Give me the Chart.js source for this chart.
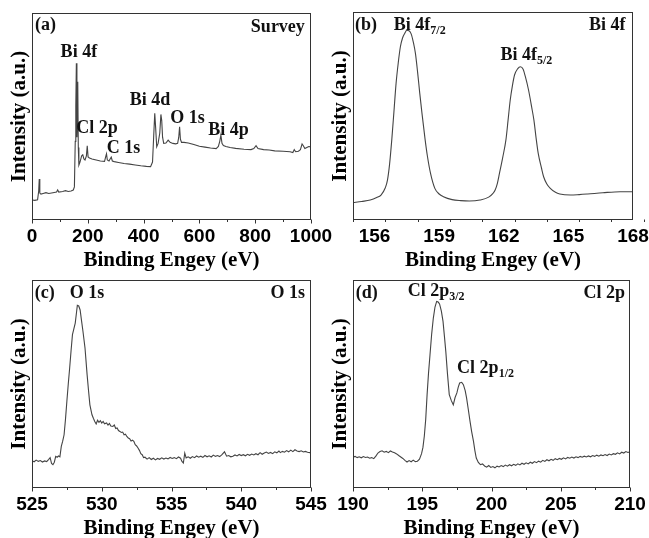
<!DOCTYPE html>
<html><head><meta charset="utf-8">
<script src="https://cdn.jsdelivr.net/npm/chart.js"></script>
<style>
html,body{margin:0;padding:0;background:#fff;}
#wrap{position:relative;width:649px;height:538px;overflow:hidden;background:#fff;}
#wrap canvas{position:absolute;left:0;top:0;}
</style></head><body>
<div id="wrap">
<canvas id="ca" width="649" height="538"></canvas>
<canvas id="cb" width="649" height="538"></canvas>
<canvas id="cc" width="649" height="538"></canvas>
<canvas id="cd" width="649" height="538"></canvas>
</div>
<script>
// ---------- data (arbitrary intensity units, 0..100 of plot height) ----------
const surveyEnergy = [0,10,20,24,26,28,32,40,50,60,75,88,92,96,110,120,130,140,148,152,155,157,159,161,163,164,166,168,172,178,182,186,190,195,198,201,206,215,230,245,260,264,267,270,276,280,284,288,295,310,330,350,370,390,410,425,432,436,440,443,447,452,458,462,465,468,472,480,488,495,505,515,522,526,529,532,536,545,560,580,600,620,640,660,668,673,677,681,686,695,710,730,760,785,795,803,810,830,850,870,900,925,935,940,945,955,962,968,972,978,985,992,1000];
const surveyIntensity = [9.7,9.5,9.8,14,19.8,13,12.5,12.8,13.2,12.8,13.2,13.5,14.5,13.5,13.8,14.2,13.8,14,14.5,16,38,55,75.7,40,50,66.8,35,26.5,28,31,31.5,29.5,29,31,35.9,30.5,30,29.5,29,28.5,28.3,30.5,32,29,28.5,29.5,30.4,28.5,28.2,27.8,27.3,27,26.6,26.2,25.9,25.8,28,40,51.5,45,35.4,37,42,51,48,40,37,37.2,38.6,37.5,37,36.8,37,40,45,39,37.5,37.5,37.2,36.5,35.6,35.2,34.8,34.5,35.5,38,41,37,36,35.5,35,34.6,34.2,34,34.5,35.9,34.5,34,33.8,33.4,33.2,33,32.6,34,33,33.2,34,36.7,36,34.5,35,35.5,35.4];

const bi4fEnergy = [155.0,155.4,155.8,156.1,156.3,156.5,156.6,156.7,156.8,156.9,157.0,157.1,157.2,157.3,157.4,157.5,157.6,157.7,157.8,157.9,158.0,158.1,158.2,158.35,158.45,158.6,158.8,159.0,159.2,159.6,160.0,160.4,160.9,161.3,161.5,161.6,161.7,161.8,161.95,162.1,162.2,162.3,162.4,162.5,162.65,162.77,162.9,163.0,163.15,163.3,163.4,163.5,163.6,163.75,163.85,164.0,164.16,164.4,164.6,165.1,165.5,165.9,166.6,167.4,168.0];
const bi4fIntensity = [8.3,8.9,9.6,10.8,12.0,15.5,19.2,27,38.5,52,65.7,75.5,83.3,87.5,89.7,91.2,91.0,89.5,85.5,80,71,60.9,51.5,38.5,31,22.4,15.2,12.5,11.2,9.8,9.3,9.1,9.6,11.0,12.8,14.4,17.5,22.4,30,38.5,48,57.7,64.5,69.7,72.8,73.7,72.5,69,62.5,54,48,39.5,32,25,20.8,17.3,15.2,13.3,12.5,12.0,12.2,12.5,13.1,13.6,13.6];

const o1sEnergy = [525.0,525.15,525.3,525.45,525.6,525.75,525.9,526.05,526.2,526.3,526.4,526.5,526.6,526.7,526.8,526.9,527.0,527.1,527.2,527.3,527.4,527.5,527.6,527.7,527.8,527.9,528.0,528.1,528.2,528.25,528.35,528.45,528.55,528.65,528.8,528.95,529.05,529.15,529.3,529.4,529.5,529.6,529.7,529.8,529.9,530.0,530.1,530.2,530.35,530.45,530.55,530.65,530.8,530.9,531.0,531.1,531.2,531.3,531.4,531.5,531.6,531.7,531.8,531.9,532.0,532.1,532.2,532.3,532.4,532.5,532.6,532.7,532.8,532.9,533.0,533.1,533.25,533.4,533.55,533.7,533.85,534.0,534.15,534.3,534.45,534.6,534.75,534.9,535.05,535.2,535.35,535.5,535.65,535.75,535.85,535.95,536.05,536.2,536.35,536.5,536.65,536.8,536.95,537.1,537.25,537.4,537.55,537.7,537.85,538.0,538.15,538.3,538.45,538.6,538.8,538.95,539.1,539.25,539.4,539.55,539.7,539.85,540.0,540.15,540.3,540.45,540.6,540.75,540.9,541.05,541.2,541.35,541.5,541.65,541.8,541.95,542.1,542.25,542.4,542.55,542.7,542.8,542.95,543.1,543.25,543.4,543.55,543.7,543.85,544.0,544.15,544.3,544.45,544.6,544.75,544.9,545.0];
const o1sIntensity = [13.1,12.6,13.4,12.8,13.2,12.5,13.0,12.7,13.8,14.6,11.8,11.2,12.4,15.2,14.8,15.4,15.0,20.0,22.5,25.6,33,41.7,50,57.7,66,73.7,76.5,79.3,85,87.8,87.5,85.6,80.5,75.5,67.3,54.5,47,40,35.2,33.5,32,30.8,32.6,31.6,32.4,31.2,32.0,30.9,31.3,30.2,31.0,29.8,29.6,30.3,28.6,28.9,27.6,27.2,26.7,26.9,25.6,25.9,24.8,24.0,23.7,22.6,23.0,22.4,20.8,20.2,19.2,18.1,16.5,16.0,14.6,14.8,13.9,14.6,13.7,14.3,13.5,14.2,13.8,14.5,13.9,14.4,14.0,14.7,14.2,14.6,14.1,14.9,14.3,12.8,12.0,16.8,14.5,15.0,14.3,15.1,14.6,15.4,14.8,15.3,14.7,15.6,15.0,15.5,14.9,15.8,15.2,15.6,15.1,15.9,17.4,15.3,15.6,15.0,15.3,15.9,15.4,16.1,15.6,16.0,15.5,16.2,15.7,16.3,15.9,16.5,16.0,17.0,16.2,16.8,17.3,16.6,17.1,16.5,17.4,16.9,17.8,17.0,17.6,17.2,18.0,17.4,18.2,17.5,18.4,17.8,17.5,17.9,17.3,17.6,17.2,17.0,17.2];

const cl2pEnergy = [190.0,190.15,190.3,190.45,190.6,190.75,190.9,191.05,191.2,191.35,191.5,191.65,191.8,191.95,192.1,192.25,192.4,192.55,192.7,192.85,193.0,193.15,193.3,193.45,193.6,193.75,193.9,194.05,194.2,194.35,194.5,194.65,194.8,194.95,195.05,195.15,195.25,195.35,195.45,195.56,195.68,195.8,195.92,196.04,196.15,196.25,196.38,196.5,196.6,196.7,196.82,196.95,197.1,197.24,197.37,197.5,197.6,197.7,197.85,197.97,198.1,198.2,198.32,198.45,198.57,198.7,198.8,198.9,199.05,199.2,199.35,199.5,199.65,199.8,199.95,200.1,200.25,200.4,200.55,200.7,200.85,201.0,201.15,201.3,201.45,201.6,201.75,201.9,202.05,202.2,202.35,202.5,202.65,202.8,202.95,203.1,203.25,203.4,203.55,203.7,203.85,204.0,204.15,204.3,204.45,204.6,204.75,204.9,205.05,205.2,205.35,205.5,205.65,205.8,205.95,206.1,206.25,206.4,206.55,206.7,206.85,207.0,207.15,207.3,207.45,207.6,207.75,207.9,208.05,208.2,208.35,208.5,208.65,208.8,208.95,209.1,209.25,209.4,209.55,209.7,209.85,210.0];
const cl2pIntensity = [14.8,15.2,14.6,15.0,14.5,15.1,14.7,14.9,14.3,14.6,14.1,15.3,16.8,17.5,17.9,17.2,17.6,17.0,17.8,17.3,16.9,16.4,15.6,14.9,14.2,13.3,12.5,13.2,12.6,13.4,12.7,12.9,13.9,16.5,19.5,25,33,44.9,55,64.1,74,81.7,87,89.7,89.4,88.5,85,80.1,73,65.7,55,44.9,42,40,43.5,45.7,48.5,50.5,50.8,49.7,46.8,43.3,38,32,27,22.4,18,14.4,12.3,11.2,11.6,10.6,10.0,10.8,9.9,10.3,9.7,10.5,10.1,10.8,10.3,11.0,10.5,11.2,10.7,11.4,10.9,11.6,11.1,11.9,11.4,12.1,11.6,12.4,11.9,12.7,12.2,12.9,12.4,13.3,12.8,13.6,13.1,13.8,13.3,14.1,13.6,14.2,13.8,14.5,14.0,14.7,14.3,14.9,14.4,15.0,14.6,15.2,14.8,15.3,14.9,15.4,15.0,15.6,15.2,15.8,15.3,15.9,15.5,16.1,15.6,16.3,15.9,16.5,16.2,16.9,16.4,17.2,16.8,17.5,17.1,17.4];

// tick labels
const surveyTicks = [0,200,400,600,800,1000];
const bi4fTicks = [156,159,162,165,168];
const o1sTicks = [525,530,535,540,545];
const cl2pTicks = [190,195,200,205,210];

const xTitle = 'Binding Engey (eV)';
const yTitle = 'Intensity (a.u.)';

// ---------- styling / layout ----------
const W = 649, H = 538, Y_W = 32, X_H = 56;
const SANS = "'Liberation Sans', Arial, sans-serif";
const SERIF = "'Liberation Serif', 'Times New Roman', serif";
const LINE = '#444';

const frameTicks = {
  id: 'frameTicks',
  afterDraw(chart, args, o) {
    const {ctx, chartArea: a} = chart;
    const x = chart.scales.x;
    ctx.save();
    ctx.strokeStyle = '#333';
    ctx.lineWidth = 1;
    const L = Math.round(a.left) + 0.5, T = Math.round(a.top) + 0.5;
    const R = Math.round(a.right) - 0.5, B = Math.round(a.bottom) - 0.5;
    ctx.strokeRect(L, T, R - L, B - T);
    ctx.beginPath();
    const n = Math.round((x.max - x.min) / o.minor);
    for (let i = 0; i <= n; i++) {
      const v = x.min + i * o.minor;
      const px = Math.round(x.getPixelForValue(v)) + 0.5;
      const major = Math.abs(v / o.major - Math.round(v / o.major)) < 1e-6;
      ctx.moveTo(px, B);
      ctx.lineTo(px, B + (major ? 4 : 2.5));
    }
    ctx.stroke();
    // annotations
    ctx.fillStyle = '#111';
    ctx.textBaseline = 'middle';
    ctx.textAlign = 'left';
    for (const lb of o.labels) {
      ctx.font = 'bold 18px ' + SERIF;
      const mw = ctx.measureText(lb.t).width;
      let sw = 0;
      if (lb.s) { ctx.font = 'bold 12px ' + SERIF; sw = ctx.measureText(lb.s).width; }
      const px = x.getPixelForValue(lb.x);
      const py = chart.scales.y.getPixelForValue(lb.y);
      const w = mw + sw;
      const sx = lb.a === 'left' ? px : lb.a === 'right' ? px - w : px - w / 2;
      ctx.font = 'bold 18px ' + SERIF;
      ctx.fillText(lb.t, sx, py);
      if (lb.s) { ctx.font = 'bold 12px ' + SERIF; ctx.fillText(lb.s, sx + mw, py + 6); }
    }
    ctx.restore();
  }
};

function makePanel(id, rect, energy, inten, ticks, xmin, minor, major, labels, smooth) {
  const pts = energy.map((e, i) => ({x: e, y: inten[i]}));
  new Chart(document.getElementById(id), {
    type: 'line',
    data: {datasets: [{data: pts, borderColor: LINE, borderWidth: 1.1, pointRadius: 0,
      tension: 0, cubicInterpolationMode: smooth ? 'monotone' : 'default', fill: false}]},
    options: {
      responsive: false, animation: false, devicePixelRatio: 1,
      layout: {padding: {left: rect.l - Y_W, top: rect.t, right: W - rect.r, bottom: H - rect.b - X_H}},
      plugins: {legend: {display: false}, tooltip: {enabled: false},
        frameTicks: {minor, major, labels}},
      scales: {
        x: {type: 'linear', min: xmin, max: ticks[ticks.length - 1],
          grid: {display: false, drawTicks: false}, border: {display: false},
          afterBuildTicks: s => { s.ticks = ticks.map(v => ({value: v})); },
          afterFit: s => { s.height = X_H; s.paddingLeft = 0; s.paddingRight = 0; },
          ticks: {autoSkip: false, maxRotation: 0, padding: 5, color: '#000',
            callback: v => String(v),
            font: {family: SANS, size: 19, weight: 'bold'}},
          title: {display: true, text: xTitle, color: '#000', padding: {top: 0, bottom: 3},
            font: {family: SERIF, size: 21, weight: 'bold'}}},
        y: {min: 0, max: 100, grid: {display: false, drawTicks: false}, border: {display: false},
          ticks: {display: false},
          afterFit: s => { s.width = Y_W; s.paddingTop = 0; s.paddingBottom = 0; },
          title: {display: true, text: yTitle, color: '#000', padding: {top: 7, bottom: 0},
            font: {family: SERIF, size: 21, weight: 'bold'}}}
      }
    },
    plugins: [frameTicks]
  });
}

makePanel('ca', {l: 32, t: 13, r: 311, b: 220}, surveyEnergy, surveyIntensity, surveyTicks, 0, 100, 200, [
  {t: '(a)', x: 10.8, y: 94.2, a: 'left'},
  {t: 'Survey', x: 978, y: 93.2, a: 'right'},
  {t: 'Bi 4f', x: 168, y: 81.2},
  {t: 'Cl 2p', x: 233, y: 44.4},
  {t: 'C 1s', x: 328, y: 34.8},
  {t: 'Bi 4d', x: 423, y: 58},
  {t: 'O 1s', x: 557, y: 49.3},
  {t: 'Bi 4p', x: 704, y: 43.5}
], false);

makePanel('cb', {l: 353, t: 12, r: 633, b: 220}, bi4fEnergy, bi4fIntensity, bi4fTicks, 155, 1.5, 3, [
  {t: '(b)', x: 155.09, y: 93.75, a: 'left'},
  {t: 'Bi 4f', s: '7/2', x: 158.1, y: 93.75},
  {t: 'Bi 4f', s: '5/2', x: 163.05, y: 79.3},
  {t: 'Bi 4f', x: 167.65, y: 93.75, a: 'right'}
], true);

makePanel('cc', {l: 32, t: 280, r: 311, b: 488}, o1sEnergy, o1sIntensity, o1sTicks, 525, 2.5, 5, [
  {t: '(c)', x: 525.2, y: 93.75, a: 'left'},
  {t: 'O 1s', x: 527.7, y: 93.75, a: 'left'},
  {t: 'O 1s', x: 544.57, y: 93.75, a: 'right'}
], false);

makePanel('cd', {l: 353, t: 280, r: 630, b: 488}, cl2pEnergy, cl2pIntensity, cl2pTicks, 190, 2.5, 5, [
  {t: '(d)', x: 190.2, y: 93.75, a: 'left'},
  {t: 'Cl 2p', s: '3/2', x: 196.0, y: 94.7},
  {t: 'Cl 2p', s: '1/2', x: 199.57, y: 57.7},
  {t: 'Cl 2p', x: 209.64, y: 93.75, a: 'right'}
], false);
</script>
</body></html>
